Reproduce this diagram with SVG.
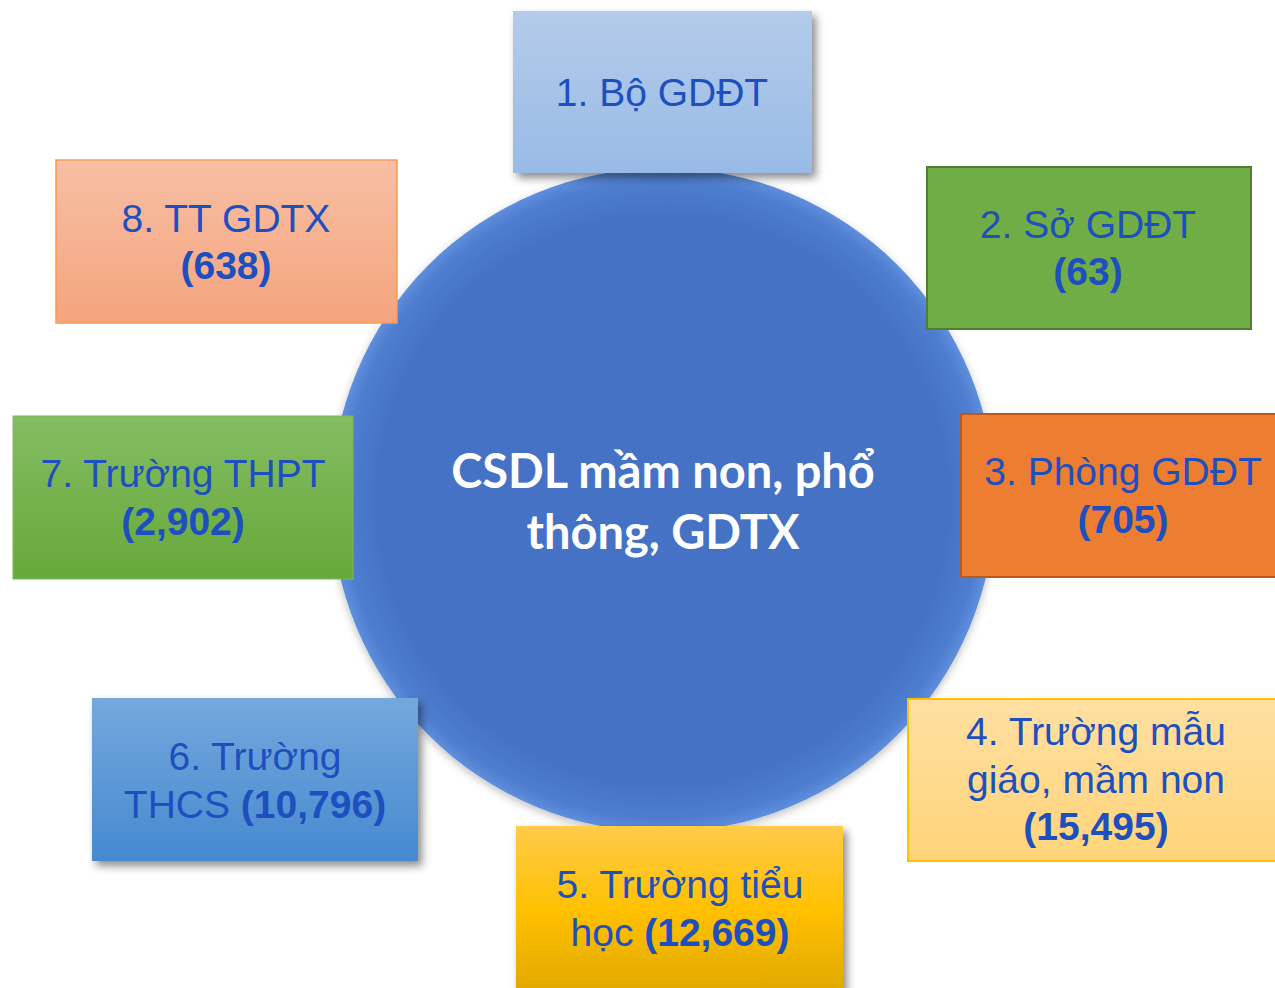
<svg xmlns="http://www.w3.org/2000/svg" width="1275" height="988" viewBox="0 0 1275 988">
  <defs>
    <radialGradient id="gCircle" cx="0.5" cy="0.5" r="0.5">
      <stop offset="0" stop-color="#4472C4"/>
      <stop offset="0.86" stop-color="#4472C4"/>
      <stop offset="0.96" stop-color="#4F7ED0"/>
      <stop offset="1" stop-color="#5E8EDC"/>
    </radialGradient>
    <linearGradient id="g1" x1="0" y1="0" x2="0" y2="1">
      <stop offset="0" stop-color="#B4CBEA"/>
      <stop offset="1" stop-color="#98BBE6"/>
    </linearGradient>
    <linearGradient id="g8" x1="0" y1="0" x2="0" y2="1">
      <stop offset="0" stop-color="#F7BFA4"/>
      <stop offset="1" stop-color="#F5A47E"/>
    </linearGradient>
    <linearGradient id="g7" x1="0" y1="0" x2="0" y2="1">
      <stop offset="0" stop-color="#85BD63"/>
      <stop offset="1" stop-color="#66A83A"/>
    </linearGradient>
    <linearGradient id="g6" x1="0" y1="0" x2="0" y2="1">
      <stop offset="0" stop-color="#74A8DD"/>
      <stop offset="1" stop-color="#4689CF"/>
    </linearGradient>
    <linearGradient id="g4" x1="0" y1="0" x2="0" y2="1">
      <stop offset="0" stop-color="#FFE0A2"/>
      <stop offset="1" stop-color="#FFD47A"/>
    </linearGradient>
    <linearGradient id="g5" x1="0" y1="0" x2="0" y2="1">
      <stop offset="0" stop-color="#FFCB4A"/>
      <stop offset="0.5" stop-color="#FFC000"/>
      <stop offset="1" stop-color="#DFA800"/>
    </linearGradient>
    <filter id="shadow" x="-10%" y="-10%" width="125%" height="130%">
      <feDropShadow dx="4" dy="5" stdDeviation="4" flood-color="#000" flood-opacity="0.45"/>
    </filter>
    <filter id="softShadow" x="-10%" y="-10%" width="120%" height="120%">
      <feDropShadow dx="0" dy="3" stdDeviation="4" flood-color="#000" flood-opacity="0.25"/>
    </filter>
  </defs>
  <style>
    .lbl { font-family: "Liberation Sans", Arial, sans-serif; font-size: 39px; fill: #1E4FBF; text-anchor: middle; }
    .num { font-weight: bold; }
    .core { font-family: Lato, "Open Sans", sans-serif; font-weight: bold; font-size: 47px; fill: #FFFFFF; text-anchor: middle; }
  </style>

  <rect width="1275" height="988" fill="#FFFFFF"/>

  <!-- central database circle -->
  <g id="core">
    <circle cx="663" cy="500" r="332" fill="url(#gCircle)" filter="url(#softShadow)"/>
    <text class="core" x="663" y="488">CSDL mầm non, phổ</text>
    <text class="core" x="663" y="549">thông, GDTX</text>
  </g>

  <!-- 1: ministry -->
  <g id="node1">
    <rect x="513" y="11" width="299" height="162" fill="url(#g1)" filter="url(#shadow)"/>
    <text class="lbl" x="662" y="106">1. Bộ GDĐT</text>
  </g>

  <!-- 2: provincial departments -->
  <g id="node2">
    <rect x="927" y="167" width="324" height="162" fill="#70AD47" stroke="#507E32" stroke-width="2"/>
    <text class="lbl" x="1088" y="238">2. Sở GDĐT</text>
    <text class="lbl num" x="1088" y="285">(63)</text>
  </g>

  <!-- 3: district offices -->
  <g id="node3">
    <rect x="961" y="414" width="320" height="163" fill="#ED7D31" stroke="#B85A1E" stroke-width="2"/>
    <text class="lbl" x="1123" y="485">3. Phòng GDĐT</text>
    <text class="lbl num" x="1123" y="533">(705)</text>
  </g>

  <!-- 4: kindergartens -->
  <g id="node4">
    <rect x="908" y="699" width="372" height="162" fill="url(#g4)" stroke="#FFC000" stroke-width="2"/>
    <text class="lbl" x="1096" y="745">4. Trường mẫu</text>
    <text class="lbl" x="1096" y="793">giáo, mầm non</text>
    <text class="lbl num" x="1096" y="840">(15,495)</text>
  </g>

  <!-- 5: primary schools -->
  <g id="node5">
    <rect x="516" y="826" width="327" height="170" fill="url(#g5)" filter="url(#shadow)"/>
    <text class="lbl" x="680" y="898">5. Trường tiểu</text>
    <text class="lbl" x="680" y="946">học <tspan class="num">(12,669)</tspan></text>
  </g>

  <!-- 6: lower secondary schools -->
  <g id="node6">
    <rect x="92" y="698" width="326" height="163" fill="url(#g6)" filter="url(#shadow)"/>
    <text class="lbl" x="255" y="770">6. Trường</text>
    <text class="lbl" x="255" y="818">THCS <tspan class="num">(10,796)</tspan></text>
  </g>

  <!-- 7: upper secondary schools -->
  <g id="node7">
    <rect x="13" y="416" width="340" height="163" fill="url(#g7)" stroke="#7DB85A" stroke-width="1"/>
    <text class="lbl" x="183" y="487">7. Trường THPT</text>
    <text class="lbl num" x="183" y="535">(2,902)</text>
  </g>

  <!-- 8: continuing education centres -->
  <g id="node8">
    <rect x="56" y="160" width="341" height="163" fill="url(#g8)" stroke="#F39A5C" stroke-width="1.5"/>
    <text class="lbl" x="226" y="232">8. TT GDTX</text>
    <text class="lbl num" x="226" y="279">(638)</text>
  </g>
</svg>
